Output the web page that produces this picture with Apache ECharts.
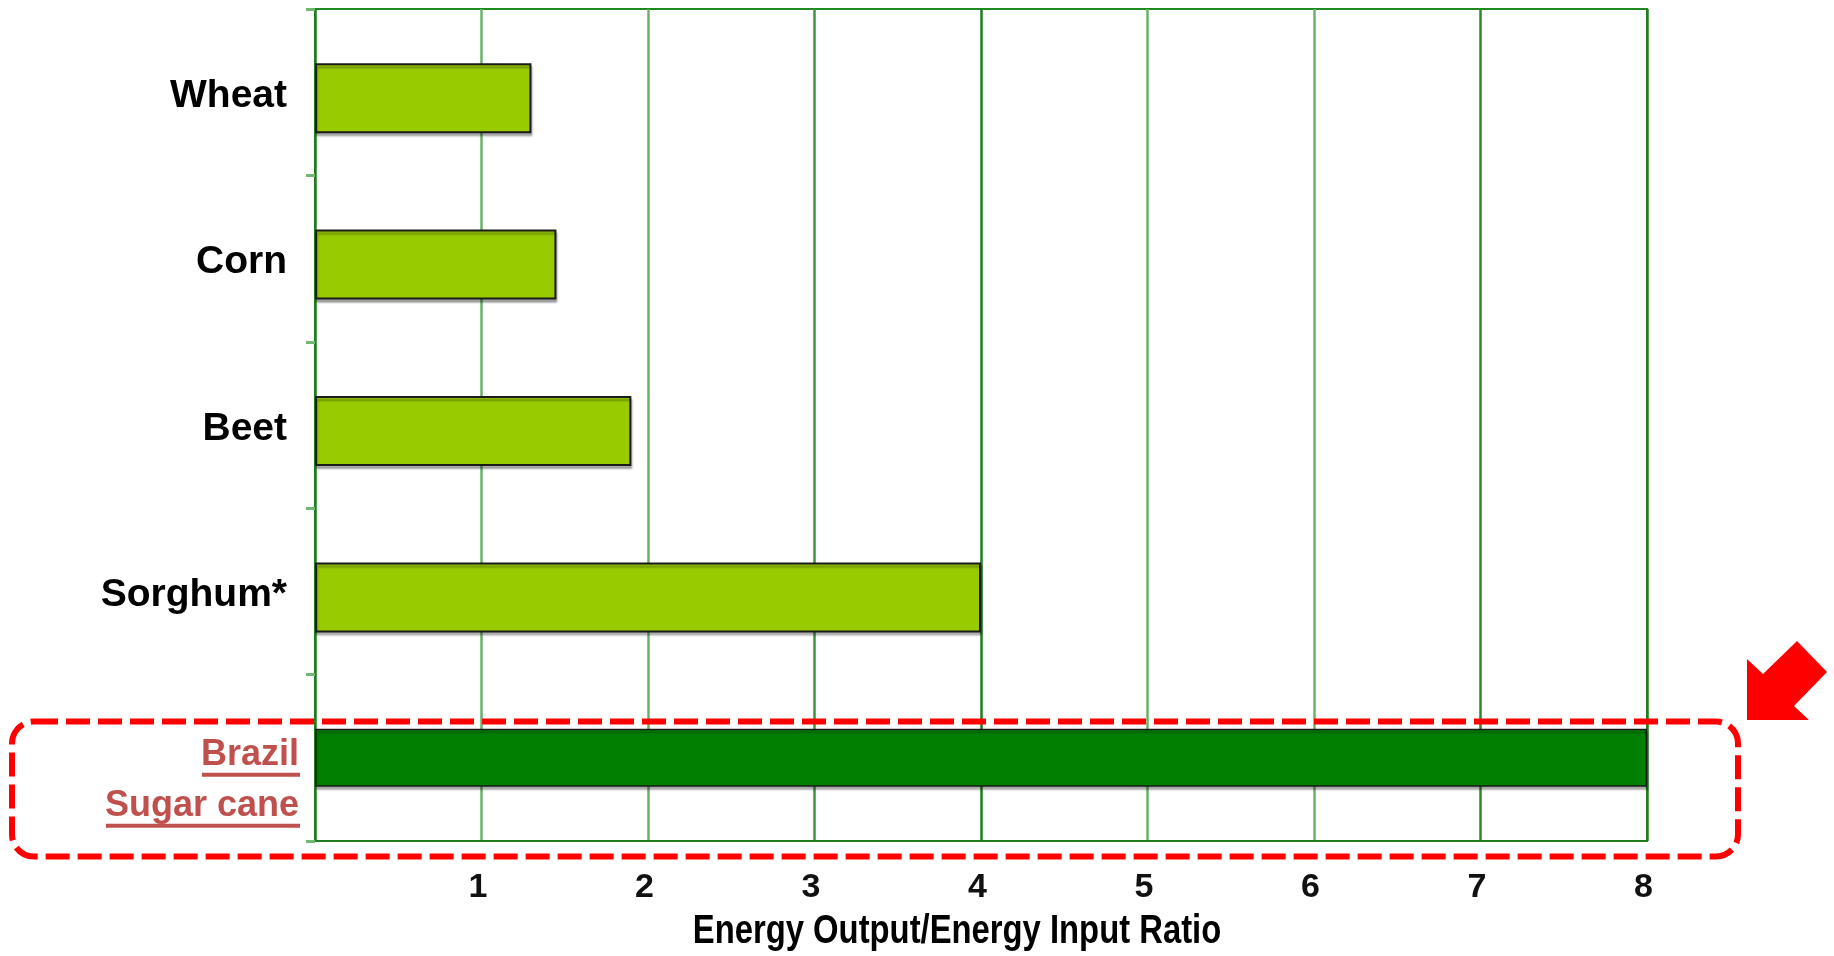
<!DOCTYPE html>
<html>
<head>
<meta charset="utf-8">
<script src="https://cdn.jsdelivr.net/npm/echarts@6/dist/echarts.min.js"></script>
<style>
html,body{margin:0;padding:0;background:#fff;}
#chart{width:1834px;height:956px;}
</style>
</head>
<body>
<div id="chart"></div>
<script>
// ---- data ----
const categories = ['Wheat', 'Corn', 'Beet', 'Sorghum*', 'Brazil\nSugar cane'];
const ratios = [1.3, 1.45, 1.9, 4, 8];
const highlighted = [false, false, false, false, true];
const xTickLabels = ['', '1', '2', '3', '4', '5', '6', '7', '8'];
const xAxisTitle = 'Energy Output/Energy Input Ratio';

const regular = '"Liberation Sans",Arial,sans-serif';

const lightData = ratios.map((v, i) => highlighted[i] ? null : v);
const darkData = ratios.map((v, i) => highlighted[i] ? v : null);

const GRID_LEFT = 315, GRID_TOP = 9, GRID_RIGHT_X = 1647, GRID_BOTTOM_Y = 841;
const LABEL_MARGIN = 16;
const HL_FONT = 36, HL_LINE = 51;

const chart = echarts.init(document.getElementById('chart'));
chart.setOption({
  backgroundColor: '#fff',
  animation: false,
  grid: {
    left: GRID_LEFT, top: GRID_TOP,
    width: GRID_RIGHT_X - GRID_LEFT, height: GRID_BOTTOM_Y - GRID_TOP,
    show: true, borderColor: '#1e8a1e', borderWidth: 2, backgroundColor: 'transparent'
  },
  xAxis: {
    type: 'value', min: 0, max: 8, interval: 1,
    axisLine: { show: true, lineStyle: { color: '#1e7e1e', width: 2 } },
    axisTick: { show: false },
    splitLine: { show: true, lineStyle: { color: ['#1e7e1e', '#6ab26a', '#6ab26a', '#3c963c', '#1e7e1e', '#6ab26a', '#6ab26a', '#2a8a2a', '#1e7e1e'], width: 2.5 } },
    axisLabel: {
      formatter: v => xTickLabels[v] || '',
      color: '#111', fontFamily: regular, fontWeight: 'bold', fontSize: 34,
      margin: 30, padding: [0, 7, 0, 0]
    }
  },
  yAxis: {
    type: 'category', data: categories, inverse: true,
    axisLine: { show: true, lineStyle: { color: '#1e7e1e', width: 2 } },
    axisTick: { show: true, length: 9, lineStyle: { color: '#6fb86f', width: 3 } },
    splitLine: { show: false },
    axisLabel: {
      margin: LABEL_MARGIN,
      formatter: v => v.indexOf('\n') >= 0
        ? '{s| }\n' + v.split('\n').map(t => '{h|' + t + '}').join('\n')
        : '{n|' + v + '}',
      rich: {
        n: { fontFamily: regular, fontWeight: 'bold', fontSize: 39, color: '#000', padding: [8, 12, 0, 0] },
        h: { fontFamily: regular, fontWeight: 'bold', fontSize: HL_FONT, color: '#C0504D', lineHeight: HL_LINE },
        s: { fontSize: 10, lineHeight: HL_LINE - 6 }
      }
    }
  },
  series: [
    {
      type: 'bar', data: lightData, barWidth: 70, barGap: '-100%',
      itemStyle: { color: '#99CC00', borderColor: '#1a1a1a', borderWidth: 2,
        shadowColor: 'rgba(0,0,0,0.3)', shadowOffsetY: 3, shadowOffsetX: 1, shadowBlur: 2 }
    },
    {
      type: 'bar', data: darkData, barWidth: 58, barGap: '-100%',
      itemStyle: { color: '#007F00', borderColor: '#1a1a1a', borderWidth: 1.5,
        shadowColor: 'rgba(0,0,0,0.3)', shadowOffsetY: 3, shadowOffsetX: 1, shadowBlur: 2 }
    }
  ]
});

// annotations: axis title, underlines of highlighted label, dashed box, arrow
const hiIdx = highlighted.indexOf(true);
const yc = chart.convertToPixel({ yAxisIndex: 0 }, categories[hiIdx]);
const ctx = document.createElement('canvas').getContext('2d');
ctx.font = 'bold ' + HL_FONT + 'px ' + regular;
const rightX = GRID_LEFT - LABEL_MARGIN + 1;
const lines = categories[hiIdx].split('\n');
const underlines = lines.map((t, i) => {
  const w = ctx.measureText(t).width;
  return {
    type: 'rect', silent: true,
    shape: { x: rightX - w, y: yc + 15 + i * HL_LINE, width: w, height: 4 },
    style: { fill: '#C0504D' }
  };
});

chart.setOption({
  graphic: underlines.concat([
    {
      type: 'text', silent: true, x: 957, y: 932, scaleX: 0.82,
      style: { text: xAxisTitle, font: 'bold 40px ' + regular, fill: '#000', align: 'center', verticalAlign: 'middle' }
    },
    {
      type: 'rect', silent: true, z: 100,
      shape: { x: 12, y: 721.5, width: 1726, height: 135, r: 22 },
      style: { fill: null, stroke: '#FF0000', lineWidth: 6, lineDash: [24, 8] }
    },
    {
      type: 'polygon', silent: true, z: 100,
      shape: { points: [[1747, 659], [1763, 674], [1797, 641], [1827, 672], [1794, 706], [1809, 720], [1747, 720]] },
      style: { fill: '#FF0000' }
    }
  ])
});
</script>
</body>
</html>
